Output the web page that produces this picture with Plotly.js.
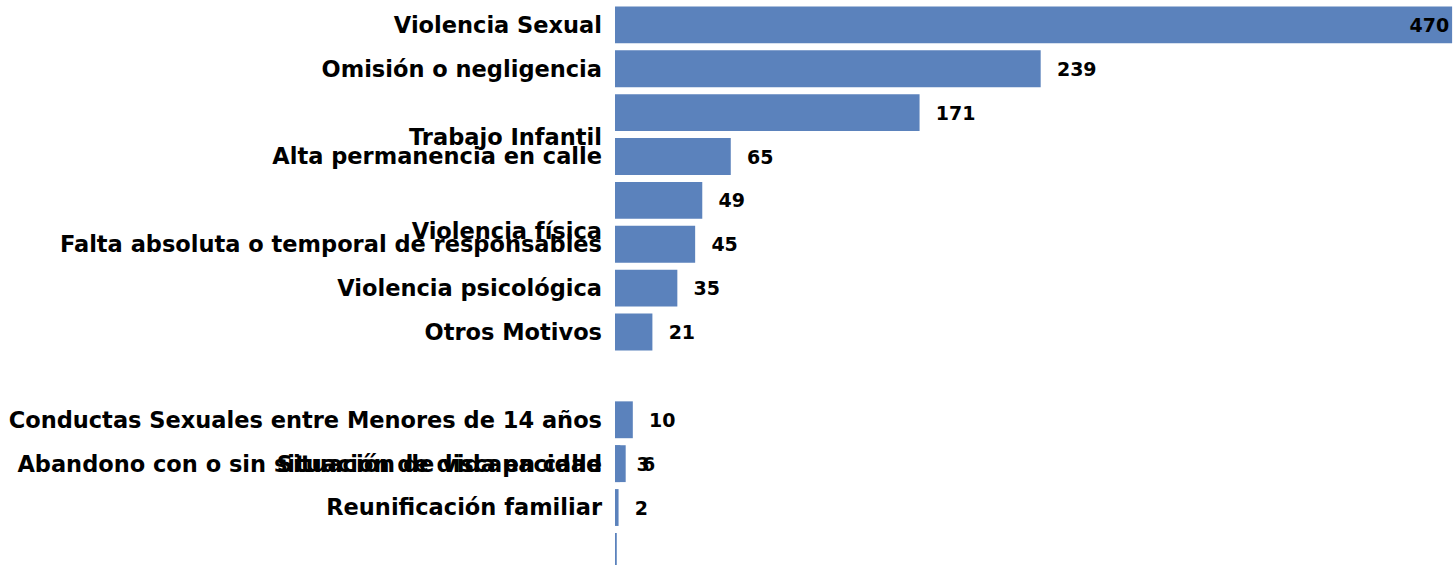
<!DOCTYPE html>
<html>
<head>
<meta charset="utf-8">
<script src="https://cdn.plot.ly/plotly-3.0.1.min.js"></script>
<style>html,body{margin:0;padding:0;background:#fff;}#chart{width:1453px;height:565px;}</style>
</head>
<body>
<div id="chart"></div>
<script>
// ---- data ----
const categories = [
  "Violencia Sexual",
  "Omisión o negligencia",
  "Trabajo Infantil",
  "Alta permanencia en calle",
  "Violencia física",
  "Falta absoluta o temporal de responsables",
  "Violencia psicológica",
  "Otros Motivos",
  "Conductas Sexuales entre Menores de 14 años",
  "Abandono con o sin situación de discapacidad",
  "Situación de vida en calle",
  "Reunificación familiar",
  ""
];
const values = [470, 239, 171, 65, 49, 45, 35, 21, 10, 3, 6, 2, 1];
const valueLabels = ["470", "239", "171", "65", "49", "45", "35", "21", "10", "3", "6", "2", ""];

// ---- layout of rows (as drawn in the reference) ----
const barRows   = [0, 1, 2, 3, 4, 5, 6, 7, 9, 10, 10, 11, 12];
const labelRows = [0, 1, 2.55, 3, 4.7, 5, 6, 7, 9, 10, 10, 11, 12];

const FONT = "DejaVu Sans";
const NB = "\u00a0\u00a0";
const YRANGE = [12.31, -0.568];
const TICKFONT = { family: FONT, size: 22.5, color: "#000", weight: "bold" };

// the reference draws two labels on the same row; the second one goes on an overlaying axis
const mainIdx = [0, 1, 2, 3, 4, 5, 6, 7, 8, 9, 11];
const overlapIdx = [10];

const trace = {
  type: "bar",
  orientation: "h",
  x: values,
  y: barRows,
  width: 0.84,
  marker: { color: "#5b82bc", line: { width: 0 } },
  text: valueLabels.map((t, i) => (i === 0 || t === "") ? t : NB + t),
  textposition: values.map((v, i) => i === 0 ? "inside" : "outside"),
  insidetextanchor: "end",
  textangle: 0,
  insidetextfont: { family: FONT, size: 19, color: "#000", weight: "bold" },
  outsidetextfont: { family: FONT, size: 19, color: "#000", weight: "bold" },
  constraintext: "none",
  cliponaxis: false,
  hoverinfo: "x+text"
};

// invisible helper trace so the overlaying axis is drawn
const helper = {
  type: "scatter",
  mode: "markers",
  x: [0],
  y: [labelRows[10]],
  yaxis: "y2",
  marker: { opacity: 0, size: 1 },
  hoverinfo: "skip",
  showlegend: false
};

const layout = {
  width: 1453,
  height: 565,
  margin: { l: 615, r: 0, t: 0, b: 0, pad: 0 },
  paper_bgcolor: "#fff",
  plot_bgcolor: "rgba(0,0,0,0)",
  showlegend: false,
  barmode: "overlay",
  xaxis: {
    range: [0, 470.5],
    visible: false,
    showgrid: false,
    zeroline: false,
    fixedrange: true
  },
  yaxis: {
    range: YRANGE,
    tickmode: "array",
    tickvals: mainIdx.map(i => labelRows[i]),
    ticktext: mainIdx.map(i => categories[i]),
    ticks: "",
    ticklabelstandoff: 12,
    showgrid: false,
    zeroline: false,
    showline: false,
    automargin: false,
    tickfont: TICKFONT,
    fixedrange: true
  },
  yaxis2: {
    overlaying: "y",
    side: "left",
    anchor: "x",
    range: YRANGE,
    tickmode: "array",
    tickvals: overlapIdx.map(i => labelRows[i]),
    ticktext: overlapIdx.map(i => categories[i]),
    ticks: "",
    ticklabelstandoff: 12,
    showgrid: false,
    zeroline: false,
    showline: false,
    automargin: false,
    tickfont: TICKFONT,
    fixedrange: true
  }
};

Plotly.newPlot("chart", [trace, helper], layout, { displayModeBar: false, staticPlot: true });
</script>
</body>
</html>
